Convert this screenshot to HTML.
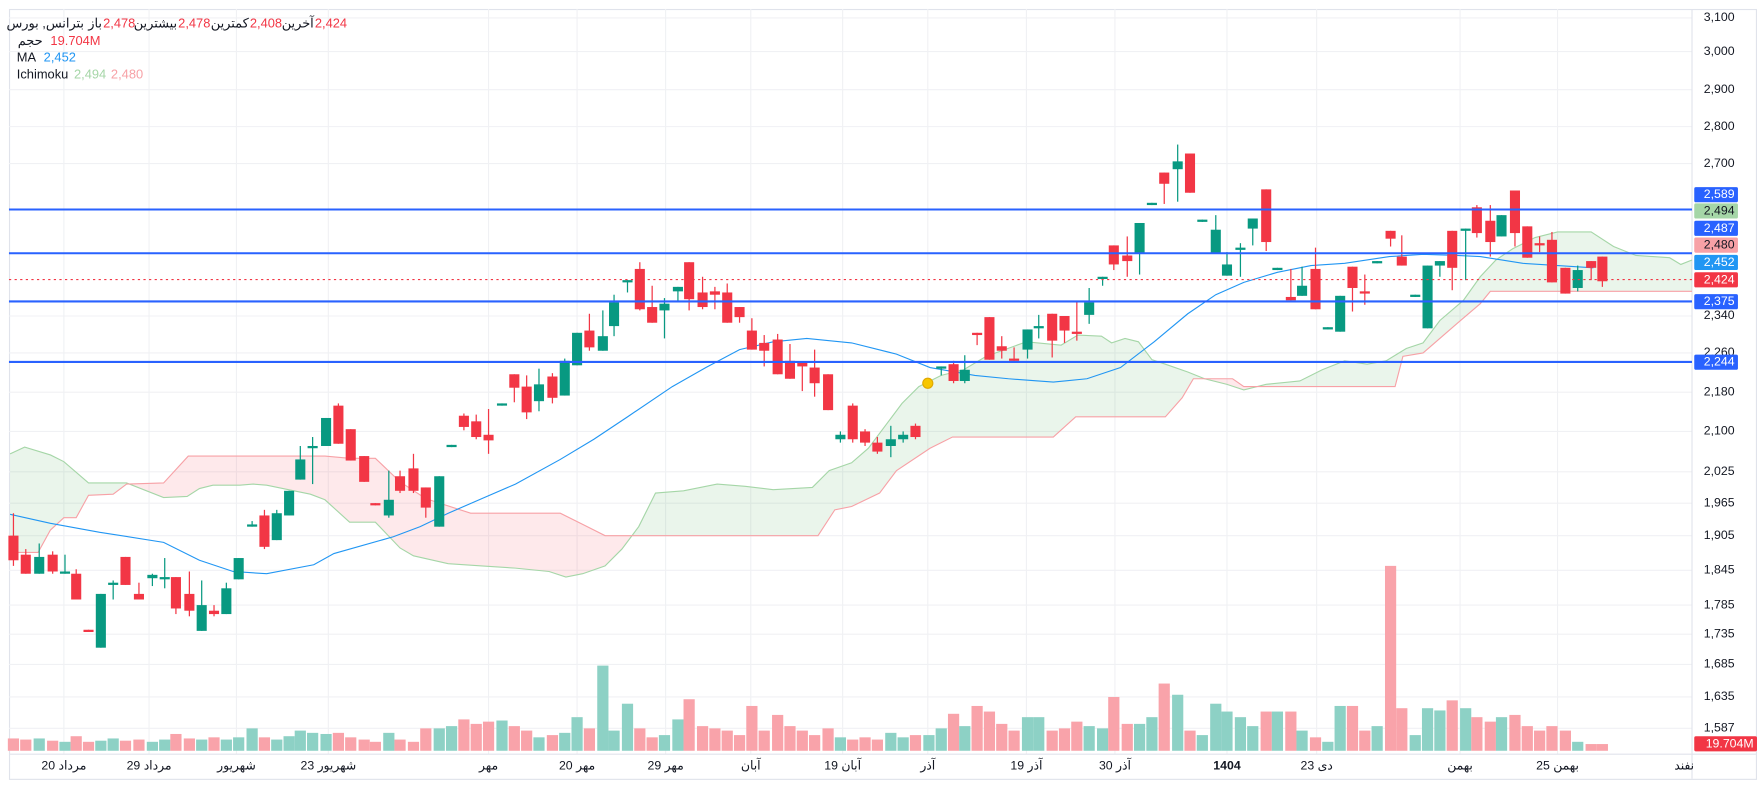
<!DOCTYPE html>
<html><head><meta charset="utf-8"><style>
html,body{margin:0;padding:0;background:#fff;}
svg{display:block;font-family:"Liberation Sans","Noto Sans CJK SC",sans-serif;}
</style></head><body>
<svg id="s" width="1757" height="790" viewBox="0 0 1568 705" preserveAspectRatio="none" xmlns="http://www.w3.org/2000/svg">
<rect x="0" y="0" width="1568" height="705" fill="#fff"/>
<rect x="8.5" y="8.5" width="1559" height="687" fill="none" stroke="#e0e3eb" stroke-width="1"/>
<g id="grid" stroke="#f0f1f4" stroke-width="1"></g>
<line x1="1510" y1="8" x2="1510" y2="695" stroke="#e0e3eb"/>
<line x1="8" y1="673" x2="1568" y2="673" stroke="#e0e3eb"/>
<g id="cloud"></g>
<g id="vol"></g>
<g id="lines"></g>
<g id="candles"></g>
<g stroke="#2962ff" stroke-width="1.8">
<line x1="8" y1="187" x2="1510" y2="187"/>
<line x1="8" y1="226" x2="1510" y2="226"/>
<line x1="8" y1="269" x2="1510" y2="269"/>
<line x1="8" y1="323" x2="1510" y2="323"/>
</g>
<line x1="8" y1="249.5" x2="1510" y2="249.5" stroke="#f23645" stroke-width="1" stroke-dasharray="2,3"/>
<circle cx="828" cy="342" r="4.5" fill="#f7c600" stroke="#e0a800" stroke-width="1"/>

<g font-size="11.5" dominant-baseline="middle">
<text x="75" y="21.5" fill="#131722" text-anchor="end">بترانس, بورس</text>
<text x="91" y="21.5" fill="#131722" text-anchor="end">باز</text>
<text x="92" y="21.5" fill="#f23645">2,478</text>
<text x="158" y="21.5" fill="#131722" text-anchor="end">بیشترین</text>
<text x="159" y="21.5" fill="#f23645">2,478</text>
<text x="222" y="21.5" fill="#131722" text-anchor="end">کمترین</text>
<text x="223" y="21.5" fill="#f23645">2,408</text>
<text x="280" y="21.5" fill="#131722" text-anchor="end">آخرین</text>
<text x="281" y="21.5" fill="#f23645">2,424</text>
<text x="38" y="37" fill="#131722" text-anchor="end">حجم</text>
<text x="45" y="37" fill="#f23645">19.704M</text>
<text x="15" y="52" fill="#131722">MA</text>
<text x="39" y="52" fill="#2196f3">2,452</text>
<text x="15" y="67" fill="#131722">Ichimoku</text>
<text x="66" y="67" fill="#a5d6a7">2,494</text>
<text x="99" y="67" fill="#f7a1a6">2,480</text>
</g>

<g font-size="11" fill="#131722" text-anchor="end" dominant-baseline="middle">
<text x="1548" y="16">3,100</text>
<text x="1548" y="46">3,000</text>
<text x="1548" y="80">2,900</text>
<text x="1548" y="113">2,800</text>
<text x="1548" y="146">2,700</text>
<text x="1548" y="282">2,340</text>
<text x="1548" y="315">2,260</text>
<text x="1548" y="350">2,180</text>
<text x="1548" y="385">2,100</text>
<text x="1548" y="421">2,025</text>
<text x="1548" y="449">1,965</text>
<text x="1548" y="478">1,905</text>
<text x="1548" y="509">1,845</text>
<text x="1548" y="540">1,785</text>
<text x="1548" y="566">1,735</text>
<text x="1548" y="593">1,685</text>
<text x="1548" y="622">1,635</text>
<text x="1548" y="650">1,587</text>
</g>
<g font-size="11" text-anchor="end" dominant-baseline="middle">
<rect x="1512" y="167" width="39" height="13.5" rx="1.5" fill="#2962ff"/><text x="1548" y="174" fill="#fff">2,589</text>
<rect x="1512" y="181.5" width="39" height="13.5" rx="1.5" fill="#a5d6a7"/><text x="1548" y="188.5" fill="#131722">2,494</text>
<rect x="1512" y="197" width="39" height="13.5" rx="1.5" fill="#2962ff"/><text x="1548" y="204" fill="#fff">2,487</text>
<rect x="1512" y="212" width="39" height="13.5" rx="1.5" fill="#f7a1a6"/><text x="1548" y="219" fill="#131722">2,480</text>
<rect x="1512" y="227.5" width="39" height="13.5" rx="1.5" fill="#2196f3"/><text x="1548" y="234.5" fill="#fff">2,452</text>
<rect x="1512" y="243" width="39" height="13.5" rx="1.5" fill="#f23645"/><text x="1548" y="250" fill="#fff">2,424</text>
<rect x="1512" y="262.5" width="39" height="13.5" rx="1.5" fill="#2962ff"/><text x="1548" y="269.5" fill="#fff">2,375</text>
<rect x="1512" y="316.5" width="39" height="13.5" rx="1.5" fill="#2962ff"/><text x="1548" y="323.5" fill="#fff">2,244</text>
<rect x="1512" y="657" width="56" height="13.5" rx="1.5" fill="#f23645"/><text x="1565" y="664" fill="#fff">19.704M</text>
</g>
<g font-size="11" fill="#131722" text-anchor="middle" dominant-baseline="middle">
<text x="57" y="684">20 مرداد</text>
<text x="133" y="684">29 مرداد</text>
<text x="211" y="684">شهریور</text>
<text x="293" y="684">23 شهریور</text>
<text x="436" y="684">مهر</text>
<text x="515" y="684">20 مهر</text>
<text x="594" y="684">29 مهر</text>
<text x="670" y="684">آبان</text>
<text x="752" y="684">19 آبان</text>
<text x="828" y="684">آذر</text>
<text x="916" y="684">19 آذر</text>
<text x="995" y="684">30 آذر</text>
<text x="1095" y="684" font-weight="bold">1404</text>
<text x="1175" y="684">23 دی</text>
<text x="1303" y="684">بهمن</text>
<text x="1390" y="684">25 بهمن</text>
<text x="1503" y="684">نفند</text>
</g>
</svg>
<script>
var NS="http://www.w3.org/2000/svg";
function el(p,t,a){var e=document.createElementNS(NS,t);for(var k in a)e.setAttribute(k,a[k]);p.appendChild(e);return e;}
var grid=document.getElementById('grid');
[16,46,80,113,146,187,226,282,315,350,385,421,449,478,509,540,566,593,622,650].forEach(function(y){el(grid,'line',{x1:8,x2:1510,y1:y,y2:y});});
[57,133,211,293,436,515,594,670,752,828,916,995,1095,1175,1303,1390].forEach(function(x){el(grid,'line',{x1:x,x2:x,y1:8,y2:673});});

var A=[[9,405],[22,399],[45,406],[57,412],[79,431],[113,431],[146,444],[167,443],[178,436],[190,433],[214,433],[226,432],[238,433],[277,441],[290,446],[312,466],[335,466],[357,489],[369,496],[400,503],[430,505],[460,507],[490,510],[505,515],[520,512],[540,505],[555,490],[570,470],[585,440],[610,438],[640,432],[665,434],[690,437],[725,435],[740,420],[760,413],[775,400],[790,380],[805,360],[820,345],[840,335],[860,330],[880,318],[916,305],[947,308],[962,299],[983,300],[992,306],[1004,302],[1016,305],[1028,321],[1040,325],[1060,332],[1075,338],[1095,343],[1110,348],[1130,343],[1160,340],[1180,330],[1200,322],[1220,325],[1237,322],[1255,311],[1270,306],[1285,286],[1306,268],[1321,247],[1335,232],[1350,222],[1370,212],[1390,207],[1420,207],[1440,220],[1460,228],[1490,230],[1500,236],[1510,232]];
var B=[[9,493],[34,493],[45,473],[57,462],[68,462],[79,442],[101,441],[113,432],[146,431],[168,407],[290,407],[312,409],[335,409],[357,430],[380,445],[420,458],[500,458],[520,468],[540,478],[730,478],[745,455],[760,452],[785,440],[800,420],[830,400],[850,390],[940,390],[960,372],[1040,372],[1055,355],[1065,338],[1100,338],[1110,345],[1245,345],[1252,318],[1270,315],[1300,289],[1321,271],[1330,260],[1510,260]];
var MA=[[9,459],[45,467],[89,475],[146,484],[178,500],[208,510],[238,512],[280,504],[298,494],[351,479],[375,470],[400,458],[430,445],[460,432],[500,410],[530,392],[560,372],[600,345],[630,328],[660,312],[690,305],[720,302],[760,306],[800,316],[830,328],[870,335],[900,338],[940,341],[970,338],[1000,328],[1030,305],[1060,280],[1085,263],[1110,252],[1140,243],[1170,237],[1200,235],[1240,229],[1270,227],[1300,228],[1321,229],[1359,235],[1422,239]];
function interp(P,x){for(var i=0;i<P.length-1;i++){if(x>=P[i][0]&&x<=P[i+1][0]){var t=(x-P[i][0])/(P[i+1][0]-P[i][0]||1);return P[i][1]+t*(P[i+1][1]-P[i][1]);}}return x<P[0][0]?P[0][1]:P[P.length-1][1];}
var cl=document.getElementById('cloud');
var g1=[],g2=[],r1=[],r2=[];
for(var x=9;x<=1510;x+=1){var a=interp(A,x),b=interp(B,x),m=Math.max(a,b);g1.push(x+','+a);g2.unshift(x+','+m);r1.push(x+','+b);r2.unshift(x+','+m);}
el(cl,'polygon',{points:g1.concat(g2).join(' '),fill:'rgba(67,160,71,0.11)'});
el(cl,'polygon',{points:r1.concat(r2).join(' '),fill:'rgba(242,54,69,0.11)'});
var ln=document.getElementById('lines');
function pl(P,c,w){el(ln,'polyline',{points:P.map(function(p){return p.join(',')}).join(' '),fill:'none',stroke:c,'stroke-width':w});}
pl(A,'#a5d6a7',1);pl(B,'#f7a1a6',1);pl(MA,'#2196f3',1);

var C=[[12,478,500,458,505,1,11],[23,495,512,490,512,1,10],[35,497,512,485,512,0,11],[47,495,510,492,512,1,9],[58,510,512,495,512,0,8],[68,512,535,508,535,1,13],[79,562,564,562,564,1,8],[90,530,578,530,578,0,9],[101,520,522,518,535,0,11],[112,497,522,497,522,1,9],[124,530,535,520,535,1,10],[136,513,516,512,523,0,8],[147,515,517,498,525,0,10],[157,515,543,515,548,1,15],[169,530,545,510,550,1,11],[180,540,563,518,563,0,10],[191,545,548,540,550,1,12],[202,525,548,520,548,0,10],[213,498,517,498,517,0,12],[225,468,470,465,470,0,20],[236,460,488,455,490,1,12],[247,458,482,455,482,0,10],[258,438,460,438,460,0,13],[268,410,428,398,428,0,18],[279,398,400,390,432,0,16],[291,373,398,373,398,0,15],[302,362,396,360,396,1,16],[313,383,411,383,411,1,12],[325,407,430,407,430,1,10],[335,449,451,449,451,1,8],[347,446,460,420,462,0,16],[357,425,438,420,440,1,10],[369,418,438,405,440,1,8],[380,435,453,435,462,1,20],[392,425,470,425,470,0,20],[403,397,399,397,399,0,22],[414,371,381,369,384,1,28],[425,376,390,370,392,1,24],[436,388,393,365,405,1,26],[448,360,362,360,362,0,27],[459,334,346,334,359,1,22],[470,345,368,335,374,1,18],[481,343,358,329,367,0,12],[493,336,355,333,360,1,14],[504,322,353,320,353,0,16],[515,297,326,297,326,0,30],[526,295,310,280,313,1,20],[538,300,313,277,313,0,76],[548,270,291,263,300,0,18],[560,250,252,250,261,0,42],[571,240,276,234,277,1,20],[582,274,288,255,288,1,12],[593,271,277,266,302,0,14],[605,256,260,256,269,0,28],[615,234,267,234,277,1,46],[627,261,274,247,276,1,22],[638,260,263,256,276,1,20],[649,261,288,253,288,1,18],[660,274,283,274,288,1,14],[671,295,312,284,312,1,40],[682,306,313,299,327,1,18],[694,303,334,298,334,1,32],[705,322,338,307,338,1,22],[716,323,327,323,349,1,18],[727,328,342,312,354,1,14],[739,334,366,334,366,1,20],[750,388,392,385,395,0,12],[761,362,392,360,395,1,10],[772,385,395,383,398,1,12],[783,395,403,390,405,1,10],[795,392,398,380,408,0,16],[806,388,392,385,395,0,12],[817,380,390,378,392,1,14],[829,0,0,0,0,2,14],[840,327,329,327,335,0,20],[851,325,340,322,342,1,33],[861,330,340,317,342,0,22],[872,297,299,297,308,1,40],[883,283,321,283,321,1,35],[894,309,313,300,320,1,24],[905,320,322,310,322,1,18],[917,294,312,294,320,0,30],[927,291,293,281,302,0,30],[939,280,304,280,319,1,18],[950,282,295,282,306,1,20],[961,296,298,269,304,1,26],[972,270,281,257,289,0,22],[984,247,249,247,255,0,20],[994,219,236,219,241,1,48],[1006,228,233,211,247,1,24],[1017,199,226,199,245,0,24],[1028,181,183,181,183,0,30],[1039,154,164,154,182,1,60],[1051,144,151,129,180,0,50],[1062,137,172,137,172,1,18],[1073,196,198,196,198,0,14],[1085,205,226,192,226,0,42],[1095,236,246,225,246,0,35],[1107,221,223,217,247,0,30],[1118,195,204,195,219,0,22],[1130,169,216,169,224,1,35],[1140,239,241,239,241,0,35],[1152,265,268,240,268,1,35],[1162,255,264,238,264,0,18],[1174,240,276,221,276,1,12],[1185,292,294,292,294,0,8],[1196,264,296,264,296,0,40],[1207,238,257,238,278,1,40],[1218,260,262,245,272,1,18],[1229,233,235,233,235,0,22],[1241,206,213,206,220,1,165],[1251,229,237,210,237,1,38],[1263,263,265,263,265,0,14],[1274,237,293,237,293,0,38],[1285,233,237,233,247,0,36],[1296,206,239,206,259,1,45],[1308,204,206,204,250,0,38],[1318,185,208,183,212,1,30],[1330,197,216,183,229,1,26],[1340,192,211,192,211,0,30],[1352,170,208,170,220,1,32],[1363,202,230,202,230,1,22],[1374,217,219,211,225,1,18],[1385,214,252,207,252,1,22],[1397,239,262,239,262,1,18],[1408,241,257,237,260,0,8],[1420,233,239,233,250,1,6],[1430,229,251,229,256,1,6]];
var cg=document.getElementById('candles'),vg=document.getElementById('vol');
C.forEach(function(c){
  var x=c[0],col=c[5]==1?'#f23645':'#089981';
  el(vg,'rect',{x:x-5,y:670-c[6],width:10,height:c[6],fill:c[5]==1?'#f9a3aa':'#8dd1c5'});
  if(c[5]==2)return;
  el(cg,'line',{x1:x,x2:x,y1:c[3],y2:c[4],stroke:col,'stroke-width':1.1});
  el(cg,'rect',{x:x-4.5,y:c[1],width:9,height:Math.max(1.5,c[2]-c[1]),fill:col});
});
</script>
</body></html>
